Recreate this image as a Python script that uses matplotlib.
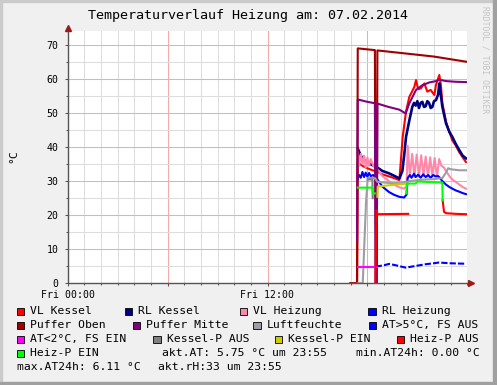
#!/usr/bin/env python3

import numpy as np
import matplotlib
matplotlib.use("Agg")
import matplotlib.pyplot as plt
from matplotlib.patches import Rectangle
from matplotlib.ticker import FixedLocator, MultipleLocator

nan = np.nan

# time axis in hours since Fri 00:00
# VL Kessel
vlk_t = [16.98, 17.38, 17.42, 17.7, 18.0, 18.3, 18.45, 18.6, 18.9, 19.3, 19.6, 19.92, 20.12, 20.32,
         20.52, 20.7, 20.82, 20.92, 21.05, 21.22, 21.42, 21.6, 21.8, 22.02, 22.12, 22.32, 22.42, 22.5,
         22.72, 22.92, 23.1, 23.3, 23.52, 23.72, 23.92]
vlk_v = [0, 0, 35.5, 34.5, 33.8, 33.2, 33.0, 32.8, 32.0, 31.4, 30.9, 30.3, 43.0, 50.5,
         54.8, 56.5, 57.7, 59.7, 57.0, 57.3, 58.7, 56.3, 56.8, 55.3, 58.3, 61.2, 58.0, 53.0,
         47.5, 44.5, 42.0, 40.5, 38.5, 37.0, 35.6]

# RL Kessel
rlk_t = [17.42, 17.6, 17.8, 18.0, 18.3, 18.6, 18.9, 19.3, 19.6, 19.92, 20.1, 20.22, 20.32, 20.52,
         20.7, 20.8, 20.9, 21.0, 21.1, 21.2, 21.3, 21.4, 21.5, 21.6, 21.7, 21.8, 21.9, 22.0, 22.12,
         22.25, 22.32, 22.42, 22.5, 22.72, 22.92, 23.1, 23.3, 23.52, 23.72, 23.92]
rlk_v = [39.6, 37.5, 36.2, 35.5, 34.7, 34.0, 33.0, 32.3, 31.6, 30.8, 33.0, 38.1, 43.0, 47.9,
         51.9, 53.0, 52.2, 53.5, 51.5, 53.0, 53.3, 51.8, 52.0, 53.5, 53.0, 51.5, 51.8, 53.5, 53.8,
         55.5, 58.7, 55.0, 51.9, 47.0, 44.5, 43.0, 41.0, 39.1, 37.5, 36.7]

# VL Heizung
vlh_t = [17.42, 17.5, 17.6, 17.7, 17.8, 17.9, 18.0, 18.1, 18.2, 18.35, 18.6, 18.9, 19.3, 19.6,
         19.92, 20.2, 20.35, 20.42, 20.55, 20.69, 20.82, 20.96, 21.1, 21.23, 21.37, 21.5, 21.64,
         21.77, 21.9, 22.04, 22.18, 22.31, 22.45, 22.6, 22.72, 22.92, 23.1, 23.3, 23.52, 23.72, 23.92]
vlh_v = [38.5, 34.5, 38.0, 35.0, 37.5, 34.0, 37.0, 34.5, 36.5, 34.5, 33.5, 31.5, 30.0, 29.0,
         28.2, 27.8, 28.5, 40.4, 31.5, 38.0, 31.3, 37.8, 31.3, 37.6, 31.5, 37.2, 31.3,
         37.0, 31.5, 36.8, 31.3, 36.5, 34.5, 34.0, 33.0, 31.5, 30.5, 29.8, 29.0, 28.3, 27.8]

# RL Heizung
rlh_t = [17.42, 17.5, 17.6, 17.7, 17.8, 17.9, 18.0, 18.1, 18.2, 18.35, 18.6, 18.9, 19.3, 19.6,
         19.92, 20.2, 20.35, 20.42, 20.55, 20.65, 20.8, 20.9, 21.05, 21.2, 21.35, 21.5, 21.65, 21.8,
         21.95, 22.1, 22.25, 22.35, 22.5, 22.72, 22.92, 23.1, 23.3, 23.52, 23.72, 23.92]
rlh_v = [30.8, 31.8, 31.0, 32.7, 31.2, 32.5, 31.3, 32.4, 31.5, 31.8, 30.5, 28.4, 26.8, 26.0,
         25.4, 25.2, 26.0, 30.9, 31.8, 31.0, 32.2, 31.2, 31.9, 31.0, 32.0, 31.2, 31.8, 31.0,
         31.8, 31.4, 31.5, 31.0, 30.0, 29.0, 28.3, 27.8, 27.3, 26.9, 26.5, 26.2]

# Puffer Oben / Puffer Mitte
pob_t = [16.98, 17.38, 17.42, 18.45, 18.5, 18.56, 18.6, 20.5, 22.0, 23.92]
pob_v = [0, 0, 69.0, 68.5, 0, 0, 68.4, 67.4, 66.6, 65.1]
pmi_t = [17.38, 17.42, 18.0, 18.45, 18.5, 18.56, 18.6, 19.2, 19.92, 20.3, 20.52, 20.92, 21.3,
         21.72, 22.12, 22.32, 22.72, 23.3, 23.92]
pmi_v = [12.6, 54.0, 53.3, 52.9, 0, 0, 52.8, 51.9, 51.0, 49.9, 52.9, 56.8, 58.2,
         59.0, 59.4, 59.8, 59.4, 59.2, 59.1]

# Luftfeuchte
lf_t = [17.42, 17.72, 17.82, 17.92, 18.02, 18.45, 18.6, 19.0, 19.5, 19.92, 20.3, 20.52, 21.0,
        21.5, 22.0, 22.5, 22.72, 22.85, 23.0, 23.5, 23.92]
lf_v = [0, 0, 12, 24, 30.9, 30.9, 29.8, 29.6, 29.4, 29.5, 29.8, 30.0, 30.3,
        30.5, 30.6, 30.9, 32.5, 33.8, 33.5, 33.2, 33.2]

# Aussentemperatur
ath_t = [18.5, 19.0, 19.3, 19.7, 20.3, 20.9, 21.5, 22.0, 22.3, 22.9, 23.5, 23.92]
ath_v = [4.9, 5.3, 5.7, 5.3, 4.6, 5.1, 5.6, 5.9, 6.1, 5.9, 5.8, 5.75]
atl_t = [17.42, 18.6]
atl_v = [4.8, 4.8]

# pump states
kpa_t = [18.02, 18.3, 18.32]
kpa_v = [30.5, 30.5, 25.0]
kpe_t = [18.6, 18.62, 19.3, 20.4]
kpe_v = [25.4, 28.4, 28.8, 29.3]
hpa_t = [18.48, 18.55, 18.6, 20.45, 20.46, 22.52, 22.6, 22.72, 23.3, 23.92]
hpa_v = [0, 21.5, 20.3, 20.4, nan, 24.4, 21.0, 20.6, 20.4, 20.3]
hpe_t = [17.42, 18.3, 18.32, 18.45, 18.46, 20.35, 20.38, 20.9, 21.0, 22.45, 22.5, 22.52]
hpe_v = [28.1, 28.1, 26.4, 26.4, nan, 26.4, 29.3, 29.3, 29.9, 29.6, 29.6, 24.4]

legend_rows = [
    [("VL Kessel", "#FF0000"), ("RL Kessel", "#000080"), ("VL Heizung", "#FF88AA"), ("RL Heizung", "#0000FF")],
    [("Puffer Oben", "#A00000"), ("Puffer Mitte", "#800080"), ("Luftfeuchte", "#A09CA4"), ("AT>5°C, FS AUS", "#0000FF")],
    [("AT<2°C, FS EIN", "#FF00FF"), ("Kessel-P AUS", "#808080"), ("Kessel-P EIN", "#CCCC00"), ("Heiz-P AUS", "#FF0000")],
]
legend_x = [[16.7, 125.0, 240.0, 368.3], [16.7, 132.7, 253.3, 369.0], [16.7, 153.3, 275.0, 396.7]]

W, H = 497, 385
mono = "DejaVu Sans Mono"

fig = plt.figure(figsize=(W / 100, H / 100), dpi=100)
fig.patch.set_facecolor("#F0F0F0")

# frame shading like rrdtool
fig.patches.append(Rectangle((0, 0), 2 / W, 1, transform=fig.transFigure, color="#CBCBCB", zorder=0))
fig.patches.append(Rectangle((0, 1 - 2 / H), 1, 2 / H, transform=fig.transFigure, color="#CBCBCB", zorder=0))
fig.patches.append(Rectangle((1 - 4 / W, 0), 4 / W, 1, transform=fig.transFigure, color="#A0A0A0", zorder=0))
fig.patches.append(Rectangle((0, 0), 1, 3 / H, transform=fig.transFigure, color="#A0A0A0", zorder=0))

left, right, top, bottom = 67.7, 467.3, 30.7, 283.3
ax = fig.add_axes([left / W, 1 - bottom / H, (right - left) / W, (bottom - top) / H])
ax.set_facecolor("white")
ax.set_xlim(0, 24)
ax.set_ylim(0, 74.2)

for s in ax.spines.values():
    s.set_visible(False)

ax.xaxis.set_major_locator(FixedLocator([0, 6, 12, 18]))
ax.xaxis.set_minor_locator(MultipleLocator(1))
ax.set_xticklabels(["Fri 00:00", "", "Fri 12:00", ""])
ax.yaxis.set_major_locator(MultipleLocator(10))
ax.yaxis.set_minor_locator(MultipleLocator(5))
ax.grid(which="minor", color="#DDDDDD", lw=0.75, zorder=0)
ax.grid(which="major", color="#F2AAAA", lw=0.75, zorder=0.5)
ax.tick_params(which="both", colors="#555555", labelcolor="black", labelsize=7.1, width=0.75)
ax.tick_params(which="major", length=2.5)
ax.tick_params(which="minor", length=1.5)
ax.tick_params(axis="y", pad=4)
ax.tick_params(axis="x", pad=2)
for lab in ax.get_xticklabels() + ax.get_yticklabels():
    lab.set_family(mono)
ax.set_axisbelow(True)

lw = 1.5
ax.plot(vlk_t, vlk_v, color="#FF0000", lw=lw, zorder=2)
ax.plot(rlk_t, rlk_v, color="#000080", lw=lw + 0.4, zorder=3)
ax.plot(vlh_t, vlh_v, color="#FF88AA", lw=lw, zorder=4)
ax.plot(rlh_t, rlh_v, color="#0000FF", lw=lw, zorder=5)
ax.plot(pob_t, pob_v, color="#A00000", lw=lw, zorder=6)
ax.plot(pmi_t, pmi_v, color="#800080", lw=lw, zorder=7)
ax.plot(lf_t, lf_v, color="#A09CA4", lw=lw, zorder=8)
ax.plot(ath_t, ath_v, color="#0000FF", lw=lw, dashes=(3, 1), zorder=9)
ax.plot(atl_t, atl_v, color="#FF00FF", lw=lw, zorder=10)
ax.plot(kpa_t, kpa_v, color="#808080", lw=lw, zorder=11)
ax.plot(kpe_t, kpe_v, color="#CCCC00", lw=lw, zorder=12)
ax.plot(hpa_t, hpa_v, color="#FF0000", lw=lw, zorder=13)
ax.plot(hpe_t, hpe_v, color="#00FF00", lw=lw, zorder=14)

# axes with arrows
axis_col = "#555555"
arrow_col = "#9B1B1B"
ax.plot([0, 1.012], [0, 0], transform=ax.transAxes, color=axis_col, lw=1, clip_on=False, zorder=20)
ax.plot([0, 0], [0, 1.012], transform=ax.transAxes, color=axis_col, lw=1, clip_on=False, zorder=20)
ax.plot([1.009], [0], transform=ax.transAxes, marker=">", ms=4.5, color=arrow_col, clip_on=False, zorder=21)
ax.plot([0], [1.011], transform=ax.transAxes, marker="^", ms=4.5, color=arrow_col, clip_on=False, zorder=21)

fig.text(247.5 / W, 1 - 16 / H, "Temperaturverlauf Heizung am: 07.02.2014", family=mono,
         fontsize=9.6, ha="center", va="center")
fig.text(13.5 / W, 1 - 156 / H, "°C", family=mono, fontsize=8.2, rotation=90, ha="center", va="center")
fig.text(485 / W, 1 - 6 / H, "RRDTOOL / TOBI OETIKER", family=mono, fontsize=5.8, rotation=270,
         color="#C4C4C4", ha="center", va="top")

# legend
row_y = [311.3, 325.3, 339.3, 353.3, 367.3]
fs = 8.2
box = 7.3
for r, row in enumerate(legend_rows):
    for (name, col), bx in zip(row, legend_x[r]):
        y = row_y[r]
        fig.patches.append(Rectangle((bx / W, 1 - (y + box / 2) / H), box / W, box / H,
                                     transform=fig.transFigure, facecolor=col,
                                     edgecolor="black", lw=0.6))
        fig.text((bx + 13.3) / W, 1 - y / H, name, family=mono, fontsize=fs, va="center")

y = row_y[3]
fig.patches.append(Rectangle((16.7 / W, 1 - (y + box / 2) / H), box / W, box / H,
                             transform=fig.transFigure, facecolor="#00FF00", edgecolor="black", lw=0.6))
fig.text(30 / W, 1 - y / H, "Heiz-P EIN", family=mono, fontsize=fs, va="center")
fig.text(161.7 / W, 1 - y / H, "akt.AT: 5.75 °C um 23:55", family=mono, fontsize=fs, va="center")
fig.text(356 / W, 1 - y / H, "min.AT24h: 0.00 °C", family=mono, fontsize=fs, va="center")
y = row_y[4]
fig.text(16.7 / W, 1 - y / H, "max.AT24h: 6.11 °C", family=mono, fontsize=fs, va="center")
fig.text(158.3 / W, 1 - y / H, "akt.rH:33 um 23:55", family=mono, fontsize=fs, va="center")

fig.savefig("out.png", dpi=100, facecolor=fig.get_facecolor())
